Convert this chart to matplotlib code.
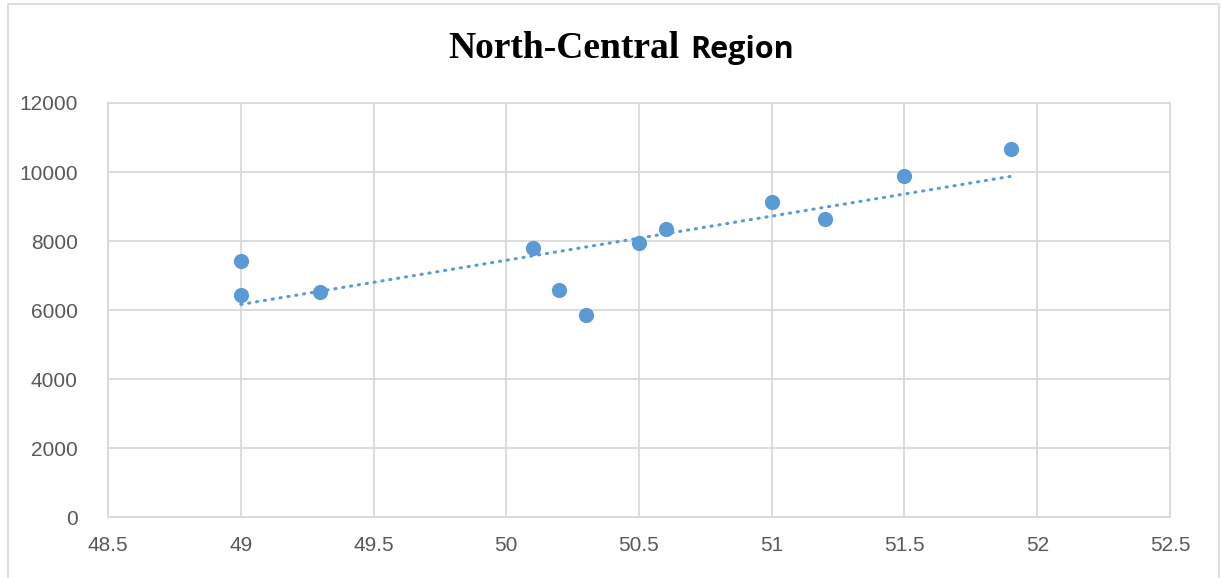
import numpy as np
import matplotlib
matplotlib.use('Agg')
import matplotlib.pyplot as plt
from matplotlib.patches import Rectangle

# ── Data ──────────────────────────────────────────────────────────────────────
x_vals = [49.0, 49.0, 49.3, 50.1, 50.2, 50.3, 50.5, 50.6, 51.0, 51.2, 51.5, 51.9]
y_vals = [7420, 6430, 6520, 7790, 6580, 5850, 7940, 8345, 9135, 8640, 9880, 10665]
x_ticks = [48.5, 49, 49.5, 50, 50.5, 51, 51.5, 52, 52.5]
y_ticks = [0, 2000, 4000, 6000, 8000, 10000, 12000]

BLUE = '#5B9BD5'
GRID = '#D9D9D9'
TICK_TXT = '#595959'

fig = plt.figure(figsize=(12.21, 5.78), dpi=100)
ax = fig.add_axes([0.0885, 0.1055, 0.8697, 0.7163])

# outer chart border (open at the bottom edge of the canvas)
fig.patches.append(Rectangle((8 / 1221, -0.05), 1211 / 1221, 1.05 - 4 / 578,
                             transform=fig.transFigure, fill=False,
                             edgecolor=GRID, linewidth=1.2))

# linear trendline over the data range
x = np.array(x_vals)
y = np.array(y_vals)
slope, intercept = np.polyfit(x, y, 1)
xt = np.array([x.min(), x.max()])
ax.plot(xt, slope * xt + intercept, color=BLUE, lw=2.2,
        linestyle=(0, (0.4, 2.2)), dash_capstyle='round', zorder=3)

ax.scatter(x, y, s=120, color=BLUE, zorder=4, linewidths=0)

ax.set_xlim(48.5, 52.5)
ax.set_ylim(0, 12000)
ax.set_xticks(x_ticks)
ax.set_yticks(y_ticks)
ax.set_xticklabels([f'{v:g}' for v in x_ticks])
ax.set_yticklabels([str(v) for v in y_ticks])
ax.grid(True, color=GRID, lw=1.3)
ax.set_axisbelow(True)
for sp in ax.spines.values():
    sp.set_color(GRID)
    sp.set_linewidth(1.3)
ax.tick_params(length=0, labelcolor=TICK_TXT, labelsize=15)
ax.tick_params(axis='x', pad=14)
ax.tick_params(axis='y', pad=22)
for lbl in ax.get_xticklabels() + ax.get_yticklabels():
    lbl.set_family('Liberation Sans')

# two-font title
fig.text(0.5560, 0.8997, 'North-Central', ha='right', va='baseline',
         family='Liberation Serif', weight='bold', fontsize=27, color='black')
fig.text(0.5650, 0.8997, 'Region', ha='left', va='baseline',
         family='Open Sans', weight='bold', fontsize=22, color='black')

fig.savefig('out.png', dpi=100)
